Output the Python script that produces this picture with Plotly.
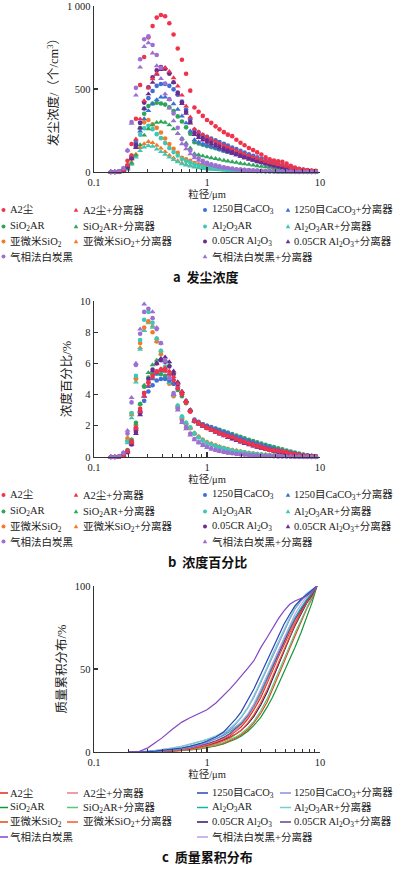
import plotly.graph_objects as go

W, H = 399, 871

# ---------------- data ----------------
sizes = [0.141, 0.153, 0.167, 0.182, 0.198, 0.215, 0.235, 0.256, 0.278, 0.303,
         0.330, 0.359, 0.391, 0.426, 0.464, 0.506, 0.551, 0.600, 0.653, 0.711,
         0.774, 0.843, 0.918, 1.00, 1.09, 1.19, 1.29, 1.41, 1.53, 1.67,
         1.82, 1.98, 2.15, 2.35, 2.56, 2.78, 3.03, 3.30, 3.59, 3.91,
         4.26, 4.64, 5.06, 5.51, 6.00, 6.53, 7.11, 7.74, 8.43, 9.18]

series_keys = ["a2", "a2_sep", "caco3", "caco3_sep", "sio2ar", "sio2ar_sep",
               "al2o3ar", "al2o3ar_sep", "subsio2", "subsio2_sep",
               "cr_al2o3", "cr_al2o3_sep", "fumed", "fumed_sep"]

series_labels = ["A2尘", "A2尘+分离器", "1250目CaCO<sub>3</sub>", "1250目CaCO<sub>3</sub>+分离器",
                 "SiO<sub>2</sub>AR", "SiO<sub>2</sub>AR+分离器",
                 "Al<sub>2</sub>O<sub>3</sub>AR", "Al<sub>2</sub>O<sub>3</sub>AR+分离器",
                 "亚微米SiO<sub>2</sub>", "亚微米SiO<sub>2</sub>+分离器",
                 "0.05CR Al<sub>2</sub>O<sub>3</sub>", "0.05CR Al<sub>2</sub>O<sub>3</sub>+分离器",
                 "气相法白炭黑", "气相法白炭黑+分离器"]

# panel a: dust concentration (个/cm3)
conc_a2 = [0, 0, 3, 17, 68, 169, 321, 524, 693, 811, 879, 930, 946, 938, 896, 828, 744, 676, 592, 490,
           389, 363, 338, 313, 296, 275, 257, 240, 225, 216, 194, 176, 161, 145, 132, 118, 105, 88, 76, 69,
           64, 61, 51, 37, 27, 20, 15, 12, 8, 7]
conc_a2_sep = [0, 0, 2, 11, 39, 99, 198, 319, 429, 506, 561, 594, 622, 627, 605, 567, 517, 462, 396, 330,
               259, 242, 226, 211, 198, 185, 173, 161, 150, 140, 129, 119, 109, 99, 90, 81, 73, 64, 56, 50,
               44, 39, 33, 26, 21, 15, 11, 8, 6, 3]
conc_caco3 = [0, 0, 2, 11, 37, 95, 180, 297, 382, 445, 488, 519, 530, 530, 519, 498, 466, 424, 376, 318,
              254, 239, 223, 212, 201, 191, 180, 170, 159, 148, 138, 127, 117, 106, 98, 89, 81, 72, 64, 56,
              49, 42, 36, 30, 23, 18, 14, 10, 6, 4]
conc_caco3_sep = [0, 0, 2, 8, 33, 82, 156, 246, 320, 369, 410, 435, 451, 451, 435, 410, 377, 336, 295, 246,
                  193, 180, 168, 160, 152, 144, 134, 126, 118, 110, 102, 93, 85, 78, 71, 65, 58, 52, 46, 40,
                  35, 30, 25, 21, 17, 13, 10, 7, 5, 3]
conc_sio2ar = [0, 0, 2, 9, 35, 86, 172, 265, 351, 398, 413, 417, 413, 406, 390, 367, 335, 304, 269, 230,
               179, 172, 164, 156, 150, 143, 136, 129, 122, 115, 108, 101, 94, 87, 80, 73, 67, 61, 55, 49,
               44, 38, 33, 27, 22, 17, 12, 9, 5, 3]
conc_sio2ar_sep = [0, 0, 1, 5, 19, 53, 101, 163, 221, 259, 283, 298, 302, 298, 283, 259, 230, 202, 173, 144,
                   110, 103, 96, 90, 85, 80, 75, 70, 65, 61, 57, 52, 48, 45, 41, 37, 34, 31, 28, 25,
                   22, 19, 16, 13, 11, 9, 6, 4, 3, 2]
conc_al2o3ar = [0, 0, 1, 6, 30, 84, 156, 225, 264, 279, 258, 228, 204, 174, 144, 120, 99, 78, 66, 57,
                45, 38, 32, 27, 24, 21, 19, 17, 14, 13, 11, 10, 8, 7, 6, 5, 5, 4, 3, 3,
                2, 2, 2, 1, 1, 1, 1, 0, 0, 0]
conc_al2o3ar_sep = [0, 0, 1, 4, 17, 46, 89, 128, 150, 159, 154, 137, 122, 105, 89, 74, 61, 48, 41, 35,
                    29, 24, 20, 18, 16, 14, 12, 11, 9, 8, 7, 6, 6, 5, 4, 4, 3, 3, 2, 2,
                    1, 1, 1, 1, 1, 1, 0, 0, 0, 0]
conc_subsio2 = [0, 0, 1, 7, 43, 101, 180, 263, 299, 313, 288, 266, 238, 202, 169, 140, 115, 86, 76, 67,
                54, 47, 40, 34, 31, 27, 24, 21, 18, 16, 14, 13, 11, 9, 8, 7, 6, 5, 4, 4,
                3, 3, 2, 2, 1, 1, 1, 1, 0, 0]
conc_subsio2_sep = [0, 0, 1, 4, 23, 57, 107, 147, 170, 183, 176, 160, 143, 122, 101, 84, 67, 53, 45, 39,
                    32, 27, 23, 20, 18, 16, 14, 12, 11, 9, 8, 7, 6, 5, 4, 4, 3, 3, 2, 2,
                    1, 1, 1, 1, 1, 0, 0, 0, 0, 0]
conc_cr_al2o3 = [0, 0, 2, 8, 31, 82, 163, 296, 418, 510, 571, 612, 632, 622, 592, 541, 479, 418, 362, 301,
                 235, 219, 204, 192, 180, 167, 156, 145, 134, 123, 113, 103, 94, 85, 77, 68, 61, 54, 47, 41,
                 35, 30, 24, 19, 15, 11, 8, 6, 4, 2]
conc_cr_al2o3_sep = [0, 0, 2, 8, 29, 78, 147, 265, 382, 470, 539, 588, 617, 627, 598, 539, 470, 412, 353, 294,
                     225, 206, 191, 178, 167, 155, 143, 132, 122, 112, 102, 93, 84, 76, 69, 61, 54, 47, 41, 35,
                     30, 25, 21, 17, 13, 10, 7, 5, 3, 2]
conc_fumed = [0, 0, 4, 22, 129, 301, 507, 679, 800, 817, 765, 705, 628, 533, 439, 353, 267, 198, 163, 129,
              99, 82, 67, 56, 47, 40, 34, 28, 24, 21, 17, 15, 13, 11, 9, 8, 7, 6, 5, 4,
              3, 3, 3, 2, 2, 1, 1, 1, 0, 0]
conc_fumed_sep = [0, 0, 4, 23, 131, 293, 462, 631, 755, 778, 716, 639, 562, 470, 385, 308, 231, 169, 139, 108,
                  85, 69, 55, 46, 39, 32, 28, 23, 20, 17, 15, 12, 11, 9, 8, 6, 5, 5, 4, 3,
                  2, 2, 2, 2, 1, 1, 1, 0, 0, 0]

# panel b: concentration percentage (%)
pct_a2 = [0, 0, 0.02, 0.1, 0.4, 1.0, 1.9, 3.1, 4.1, 4.8, 5.2, 5.5, 5.6, 5.55, 5.3, 4.9, 4.4, 4.0, 3.5, 2.9,
          2.3, 2.15, 2.0, 1.85, 1.75, 1.63, 1.52, 1.42, 1.33, 1.28, 1.15, 1.04, 0.95, 0.86, 0.78, 0.7, 0.62, 0.52, 0.45, 0.41,
          0.38, 0.36, 0.3, 0.22, 0.16, 0.12, 0.09, 0.07, 0.05, 0.04]
pct_a2_sep = [0, 0, 0.02, 0.1, 0.35, 0.9, 1.8, 2.9, 3.9, 4.6, 5.1, 5.4, 5.65, 5.7, 5.5, 5.15, 4.7, 4.2, 3.6, 3.0,
              2.35, 2.2, 2.05, 1.92, 1.8, 1.68, 1.57, 1.46, 1.36, 1.27, 1.17, 1.08, 0.99, 0.9, 0.82, 0.74, 0.66, 0.58, 0.51, 0.45,
              0.4, 0.35, 0.3, 0.24, 0.19, 0.14, 0.1, 0.07, 0.05, 0.03]
pct_caco3 = [0, 0, 0.02, 0.1, 0.35, 0.9, 1.7, 2.8, 3.6, 4.2, 4.6, 4.9, 5.0, 5.0, 4.9, 4.7, 4.4, 4.0, 3.55, 3.0,
             2.4, 2.25, 2.1, 2.0, 1.9, 1.8, 1.7, 1.6, 1.5, 1.4, 1.3, 1.2, 1.1, 1.0, 0.92, 0.84, 0.76, 0.68, 0.6, 0.53,
             0.46, 0.4, 0.34, 0.28, 0.22, 0.17, 0.13, 0.09, 0.06, 0.04]
pct_caco3_sep = [0, 0, 0.02, 0.1, 0.4, 1.0, 1.9, 3.0, 3.9, 4.5, 5.0, 5.3, 5.5, 5.5, 5.3, 5.0, 4.6, 4.1, 3.6, 3.0,
                 2.35, 2.2, 2.05, 1.95, 1.85, 1.75, 1.64, 1.54, 1.44, 1.34, 1.24, 1.14, 1.04, 0.95, 0.87, 0.79, 0.71, 0.63, 0.56, 0.49,
                 0.43, 0.37, 0.31, 0.26, 0.21, 0.16, 0.12, 0.08, 0.06, 0.04]
pct_sio2ar = [0, 0, 0.02, 0.12, 0.45, 1.1, 2.2, 3.4, 4.5, 5.1, 5.3, 5.35, 5.3, 5.2, 5.0, 4.7, 4.3, 3.9, 3.45, 2.95,
              2.3, 2.2, 2.1, 2.0, 1.92, 1.83, 1.74, 1.65, 1.56, 1.47, 1.38, 1.29, 1.2, 1.11, 1.02, 0.94, 0.86, 0.78, 0.7, 0.63,
              0.56, 0.49, 0.42, 0.35, 0.28, 0.22, 0.16, 0.11, 0.07, 0.04]
pct_sio2ar_sep = [0, 0, 0.02, 0.1, 0.4, 1.1, 2.1, 3.4, 4.6, 5.4, 5.9, 6.2, 6.3, 6.2, 5.9, 5.4, 4.8, 4.2, 3.6, 3.0,
                  2.3, 2.15, 2.0, 1.88, 1.77, 1.66, 1.56, 1.46, 1.36, 1.27, 1.18, 1.09, 1.01, 0.93, 0.85, 0.78, 0.71, 0.64, 0.58, 0.52,
                  0.46, 0.4, 0.34, 0.28, 0.23, 0.18, 0.13, 0.09, 0.06, 0.04]
pct_al2o3ar = [0, 0, 0.03, 0.2, 1.0, 2.8, 5.2, 7.5, 8.8, 9.3, 8.6, 7.6, 6.8, 5.8, 4.8, 4.0, 3.3, 2.6, 2.2, 1.9,
               1.5, 1.25, 1.05, 0.9, 0.8, 0.7, 0.62, 0.55, 0.48, 0.42, 0.37, 0.32, 0.28, 0.24, 0.21, 0.18, 0.15, 0.13, 0.11, 0.09,
               0.07, 0.06, 0.05, 0.04, 0.03, 0.02, 0.02, 0.01, 0.01, 0]
pct_al2o3ar_sep = [0, 0, 0.03, 0.2, 0.9, 2.5, 4.8, 6.9, 8.1, 8.6, 8.3, 7.4, 6.6, 5.7, 4.8, 4.0, 3.3, 2.6, 2.2, 1.9,
                   1.55, 1.3, 1.1, 0.95, 0.84, 0.74, 0.65, 0.57, 0.5, 0.44, 0.39, 0.34, 0.3, 0.26, 0.22, 0.19, 0.16, 0.14, 0.12, 0.1,
                   0.08, 0.07, 0.06, 0.05, 0.04, 0.03, 0.02, 0.02, 0.01, 0.01]
pct_subsio2 = [0, 0, 0.03, 0.2, 1.2, 2.8, 5.0, 7.3, 8.3, 8.7, 8.0, 7.4, 6.6, 5.6, 4.7, 3.9, 3.2, 2.4, 2.1, 1.85,
               1.5, 1.3, 1.1, 0.95, 0.85, 0.75, 0.66, 0.58, 0.51, 0.45, 0.4, 0.35, 0.3, 0.26, 0.22, 0.19, 0.16, 0.14, 0.12, 0.1,
               0.08, 0.07, 0.06, 0.05, 0.04, 0.03, 0.02, 0.02, 0.01, 0.01]
pct_subsio2_sep = [0, 0, 0.03, 0.2, 1.1, 2.7, 5.1, 7.0, 8.1, 8.7, 8.4, 7.6, 6.8, 5.8, 4.8, 4.0, 3.2, 2.5, 2.15, 1.85,
                   1.5, 1.3, 1.1, 0.95, 0.84, 0.74, 0.65, 0.57, 0.5, 0.44, 0.39, 0.34, 0.29, 0.25, 0.21, 0.18, 0.15, 0.13, 0.11, 0.09,
                   0.07, 0.06, 0.05, 0.04, 0.03, 0.02, 0.02, 0.01, 0.01, 0]
pct_cr_al2o3 = [0, 0, 0.02, 0.08, 0.3, 0.8, 1.6, 2.9, 4.1, 5.0, 5.6, 6.0, 6.2, 6.1, 5.8, 5.3, 4.7, 4.1, 3.55, 2.95,
                2.3, 2.15, 2.0, 1.88, 1.76, 1.64, 1.53, 1.42, 1.31, 1.21, 1.11, 1.01, 0.92, 0.83, 0.75, 0.67, 0.6, 0.53, 0.46, 0.4,
                0.34, 0.29, 0.24, 0.19, 0.15, 0.11, 0.08, 0.06, 0.04, 0.02]
pct_cr_al2o3_sep = [0, 0, 0.02, 0.08, 0.3, 0.8, 1.5, 2.7, 3.9, 4.8, 5.5, 6.0, 6.3, 6.4, 6.1, 5.5, 4.8, 4.2, 3.6, 3.0,
                    2.3, 2.1, 1.95, 1.82, 1.7, 1.58, 1.46, 1.35, 1.24, 1.14, 1.04, 0.95, 0.86, 0.78, 0.7, 0.62, 0.55, 0.48, 0.42, 0.36,
                    0.31, 0.26, 0.21, 0.17, 0.13, 0.1, 0.07, 0.05, 0.03, 0.02]
pct_fumed = [0, 0, 0.05, 0.25, 1.5, 3.5, 5.9, 7.9, 9.3, 9.5, 8.9, 8.2, 7.3, 6.2, 5.1, 4.1, 3.1, 2.3, 1.9, 1.5,
             1.15, 0.95, 0.78, 0.65, 0.55, 0.46, 0.39, 0.33, 0.28, 0.24, 0.2, 0.17, 0.15, 0.13, 0.11, 0.09, 0.08, 0.07, 0.06, 0.05,
             0.04, 0.03, 0.03, 0.02, 0.02, 0.01, 0.01, 0.01, 0, 0]
pct_fumed_sep = [0, 0, 0.05, 0.3, 1.7, 3.8, 6.0, 8.2, 9.8, 10.1, 9.3, 8.3, 7.3, 6.1, 5.0, 4.0, 3.0, 2.2, 1.8, 1.4,
                 1.1, 0.9, 0.72, 0.6, 0.5, 0.42, 0.36, 0.3, 0.26, 0.22, 0.19, 0.16, 0.14, 0.12, 0.1, 0.08, 0.07, 0.06, 0.05, 0.04,
                 0.03, 0.03, 0.02, 0.02, 0.01, 0.01, 0.01, 0, 0, 0]

# panel c: cumulative mass distribution (%)
cum_sizes = [0.2, 0.25, 0.3, 0.35, 0.4, 0.5, 0.6, 0.7, 0.8, 0.9, 1.0, 1.2, 1.4, 1.6, 1.8, 2.0,
             2.3, 2.6, 3.0, 3.4, 3.8, 4.3, 4.8, 5.4, 6.0, 6.8, 7.6, 8.5, 9.4]
cum_a2 = [0, 0, 0.1, 0.2, 0.4, 0.9, 1.4, 2.0, 2.7, 3.4, 4.2, 5.8, 7.6, 9.8, 12.3, 15, 20, 25.5, 33, 41,
          49, 57.5, 65, 72, 78.5, 85, 90.5, 95, 100]
cum_a2_sep = [0, 0, 0.1, 0.3, 0.5, 1.0, 1.6, 2.3, 3.0, 3.8, 4.6, 6.3, 8.2, 10.5, 13, 16, 21, 26.5, 34.5, 42.5,
              50.5, 58.5, 66, 73, 79.5, 86, 91, 95.5, 100]
cum_caco3 = [0, 0, 0.2, 0.5, 0.9, 1.6, 2.4, 3.3, 4.3, 5.4, 6.6, 9, 12, 16, 20, 24, 31, 38, 47, 55,
             63, 71, 77, 83, 88, 92, 95, 97.5, 100]
cum_caco3_sep = [0, 0, 0.2, 0.4, 0.7, 1.3, 2.0, 2.8, 3.7, 4.7, 5.7, 8, 10.5, 13.5, 17, 20.5, 26.5, 33, 42, 50,
                 58, 66, 73, 80, 86, 91, 94.5, 97.5, 100]
cum_sio2ar = [0, 0, 0, 0.1, 0.2, 0.5, 0.8, 1.2, 1.6, 2.1, 2.6, 3.6, 4.8, 6.2, 7.8, 9.5, 12.5, 16, 21, 27,
              33, 41, 48, 56, 63, 72, 81, 90, 100]
cum_sio2ar_sep = [0, 0, 0, 0.1, 0.3, 0.6, 1.0, 1.4, 1.9, 2.5, 3.1, 4.3, 5.7, 7.3, 9.1, 11, 14.5, 18.5, 25, 32,
                  39.5, 48, 56, 64, 71.5, 79.5, 86.5, 93, 100]
cum_al2o3ar = [0, 0.1, 0.3, 0.6, 1.0, 1.7, 2.5, 3.4, 4.3, 5.2, 6.1, 8, 10, 12.3, 14.8, 17.5, 22.5, 28, 36.5, 45,
               53, 61, 68, 75, 81, 87, 92, 96, 100]
cum_al2o3ar_sep = [0, 0.1, 0.4, 0.8, 1.3, 2.2, 3.2, 4.3, 5.4, 6.5, 7.6, 9.8, 12, 14.5, 17.5, 21, 27, 34, 43, 51,
                   59, 67, 74, 81, 87, 92, 95.5, 98, 100]
cum_subsio2 = [0, 0, 0, 0.1, 0.2, 0.5, 0.8, 1.2, 1.7, 2.2, 2.8, 3.9, 5.2, 6.7, 8.4, 10.2, 13.5, 17.5, 23.5, 30,
               37.5, 46, 54, 62.5, 70, 78.5, 86, 92.5, 100]
cum_subsio2_sep = [0, 0, 0.1, 0.2, 0.4, 0.8, 1.2, 1.7, 2.3, 2.9, 3.6, 5.0, 6.6, 8.5, 10.7, 13, 17.5, 22.5, 30, 37.5,
                   45.5, 54, 62, 70, 77, 84, 90, 95, 100]
cum_cr_al2o3 = [0, 0, 0, 0.2, 0.4, 0.8, 1.3, 1.9, 2.6, 3.3, 4.0, 5.5, 7.1, 8.9, 10.9, 13, 17, 21.5, 28.5, 36,
                44, 53, 61, 69, 76, 83.5, 89.5, 94.5, 100]
cum_cr_al2o3_sep = [0, 0, 0.1, 0.3, 0.6, 1.2, 1.9, 2.6, 3.4, 4.2, 5.0, 6.8, 8.8, 11.2, 14, 17, 22, 28, 36, 44,
                    52, 60, 67, 74, 80, 86, 91, 95.5, 100]
cum_fumed = [0, 0.3, 2.5, 5.5, 8.5, 14, 18, 20.5, 22.5, 24, 25.5, 29.5, 34, 38, 42, 45.5, 50.5, 55, 63, 69,
             74.5, 80.5, 85, 89, 91, 92.5, 94, 96.5, 100]
cum_fumed_sep = [0, 0.2, 0.5, 1.0, 1.5, 2.5, 3.5, 4.6, 5.6, 6.6, 7.5, 9.3, 11.2, 13.3, 15.5, 18, 23, 29, 38, 46,
                 54, 62, 69, 76, 83, 89, 93.5, 97, 100]

x_ticks = [0.1, 1, 10]
x_tick_text = ["0.1", "1", "10"]
x_minor = [0.2, 0.3, 0.4, 0.5, 0.6, 0.7, 0.8, 0.9, 2, 3, 4, 5, 6, 7, 8, 9]

# ---------------- styles ----------------
marker_colors = {
    "a2": "#f0334b", "a2_sep": "#f0334b",
    "caco3": "#3d6fd6", "caco3_sep": "#3d6fd6",
    "sio2ar": "#2ea55a", "sio2ar_sep": "#2ea55a",
    "al2o3ar": "#3cc8b6", "al2o3ar_sep": "#3cc8b6",
    "subsio2": "#f47a2a", "subsio2_sep": "#f47a2a",
    "cr_al2o3": "#6b2c91", "cr_al2o3_sep": "#6b2c91",
    "fumed": "#9b70d2", "fumed_sep": "#9b70d2",
}
line_colors = {
    "a2": "#e3231f", "a2_sep": "#f07a86",
    "caco3": "#2a44b4", "caco3_sep": "#8a90e0",
    "sio2ar": "#14953a", "sio2ar_sep": "#5cc47a",
    "al2o3ar": "#14b4a4", "al2o3ar_sep": "#72d2c8",
    "subsio2": "#e8441a", "subsio2_sep": "#f25a28",
    "cr_al2o3": "#341268", "cr_al2o3_sep": "#65408c",
    "fumed": "#8446c4", "fumed_sep": "#bda0e4",
}

conc = {k: globals()["conc_" + k] for k in series_keys}
pct = {k: globals()["pct_" + k] for k in series_keys}
cum = {k: globals()["cum_" + k] for k in series_keys}

SERIF = "Liberation Serif, Noto Sans CJK SC, serif"
CJK = "Noto Sans CJK SC, sans-serif"
AX = "#333333"

fig = go.Figure()

draw_order = ["subsio2_sep", "al2o3ar_sep", "subsio2", "al2o3ar", "sio2ar_sep", "sio2ar",
              "caco3_sep", "caco3", "cr_al2o3_sep", "cr_al2o3", "a2_sep", "a2", "fumed_sep", "fumed"]

for panel, data, xa, ya in [("a", conc, "x", "y"), ("b", pct, "x2", "y2")]:
    for k in draw_order:
        sep = k.endswith("_sep")
        fig.add_trace(go.Scatter(
            x=sizes, y=data[k], mode="markers", xaxis=xa, yaxis=ya,
            name=series_labels[series_keys.index(k)], showlegend=False, cliponaxis=False,
            marker=dict(symbol="triangle-up" if sep else "circle", size=5.2 if sep else 4.6,
                        color=marker_colors[k], line=dict(width=0)),
        ))

line_order = ["sio2ar", "subsio2", "sio2ar_sep", "cr_al2o3", "subsio2_sep", "a2", "a2_sep",
              "cr_al2o3_sep", "al2o3ar", "fumed_sep", "caco3_sep", "al2o3ar_sep", "caco3", "fumed"]
for k in line_order:
    fig.add_trace(go.Scatter(
        x=cum_sizes, y=cum[k], mode="lines", xaxis="x3", yaxis="y3",
        name=series_labels[series_keys.index(k)], showlegend=False,
        line=dict(color=line_colors[k], width=1.2),
    ))

def px_x(x):
    return x / W

def px_y(y):
    return 1 - y / H

X0, X1 = 94, 320
panels = {
    "a": dict(top=6, bottom=172),
    "b": dict(top=301, bottom=457),
    "c": dict(top=586, bottom=752),
}

def xaxis_cfg(anchor):
    return dict(
        type="log", range=[-1, 1], domain=[px_x(X0), px_x(X1)], anchor=anchor, automargin=False,
        tickvals=x_ticks, ticktext=x_tick_text, ticks="inside", ticklen=5, tickwidth=1.2,
        tickcolor=AX, showline=True, linecolor=AX, linewidth=1.4, showgrid=False, zeroline=False,
        minor=dict(tickvals=x_minor, ticks="inside", ticklen=3, tickwidth=1, tickcolor=AX, showgrid=False),
        tickfont=dict(family=SERIF, size=10.5, color="#222"), ticklabeloverflow="allow",
        title=dict(text="粒径/μm", font=dict(family=SERIF, size=10.5, color="#222"), standoff=1),
    )

def yaxis_cfg(anchor, p, rng, tv, tt, title):
    return dict(
        range=rng, domain=[px_y(panels[p]["bottom"]), px_y(panels[p]["top"])], anchor=anchor,
        automargin=False,
        tickvals=tv, ticktext=tt, ticks="inside", ticklen=4, tickwidth=1.2, tickcolor=AX,
        showline=True, linecolor=AX, linewidth=1.4, showgrid=False, zeroline=False,
        tickfont=dict(family=SERIF, size=10.5, color="#222"), ticklabeloverflow="allow",
        title=dict(text=title, font=dict(family=SERIF, size=12.5, color="#222"), standoff=5),
    )

fig.update_layout(
    width=W, height=H, margin=dict(l=0, r=0, t=0, b=0, pad=0, autoexpand=False),
    paper_bgcolor="white", plot_bgcolor="white", showlegend=False,
    font=dict(family=SERIF, size=11, color="#222"),
    xaxis=xaxis_cfg("y"), xaxis2=xaxis_cfg("y2"), xaxis3=xaxis_cfg("y3"),
    yaxis=yaxis_cfg("x", "a", [0, 1000], [0, 500, 1000], ["0", "500", "1 000"], "发尘浓度/（个/cm<sup>3</sup>）"),
    yaxis2=yaxis_cfg("x2", "b", [0, 10], [0, 2, 4, 6, 8, 10], ["0", "2", "4", "6", "8", "10"], "浓度百分比/%"),
    yaxis3=yaxis_cfg("x3", "c", [0, 100], [0, 50, 100], ["0", "50", "100"], "质量累积分布/%"),
)

# ---------------- legends (manual, to match the compact layout) ----------------
legend_grid = [["a2", "a2_sep", "caco3", "caco3_sep"],
               ["sio2ar", "sio2ar_sep", "al2o3ar", "al2o3ar_sep"],
               ["subsio2", "subsio2_sep", "cr_al2o3", "cr_al2o3_sep"],
               ["fumed", None, "fumed_sep", None]]
marker_cols = [3.5, 76, 205, 288]
text_cols = [8, 81, 210, 292]
line_cols = [(-1, 8), (67, 78), (197, 208), (280, 291)]
legend_rows = {"a": [210, 226.5, 241.5, 256.5], "b": [495, 511.5, 526.5, 541.5], "c": [793, 807.5, 822, 837]}

shapes = []
annotations = []
for p in ["a", "b", "c"]:
    for r, row in enumerate(legend_grid):
        y = legend_rows[p][r]
        for c, k in enumerate(row):
            if k is None:
                continue
            if p == "c":
                xa, xb = line_cols[c]
                shapes.append(dict(type="line", xref="paper", yref="paper",
                                   x0=px_x(xa), x1=px_x(xb), y0=px_y(y), y1=px_y(y),
                                   line=dict(color=line_colors[k], width=1.5)))
            else:
                mx = marker_cols[c]
                col = marker_colors[k]
                if k.endswith("_sep"):
                    path = "M {} {} L {} {} L {} {} Z".format(
                        px_x(mx - 2.3), px_y(y + 1.8), px_x(mx + 2.3), px_y(y + 1.8), px_x(mx), px_y(y - 2.3))
                    shapes.append(dict(type="path", xref="paper", yref="paper", path=path,
                                       fillcolor=col, line=dict(width=0)))
                else:
                    shapes.append(dict(type="circle", xref="paper", yref="paper",
                                       x0=px_x(mx - 2), x1=px_x(mx + 2), y0=px_y(y + 2), y1=px_y(y - 2),
                                       fillcolor=col, line=dict(width=0)))
            annotations.append(dict(x=px_x(text_cols[c]), y=px_y(y), xref="paper", yref="paper",
                                    xanchor="left", yanchor="middle", showarrow=False,
                                    text=series_labels[series_keys.index(k)],
                                    font=dict(family=SERIF, size=10.5, color="#222")))

captions = [("a", "发尘浓度", 206, 276.5), ("b", "浓度百分比", 207.5, 561.5), ("c", "质量累积分布", 207.5, 856.5)]
for letter, txt, cx, cy in captions:
    annotations.append(dict(x=px_x(cx), y=px_y(cy), xref="paper", yref="paper",
                            xanchor="center", yanchor="middle", showarrow=False,
                            text="<b>{}  {}</b>".format(letter, txt),
                            font=dict(family=CJK, size=13, color="#111")))

fig.update_layout(shapes=shapes, annotations=annotations)

fig.write_html("out.html",
               config={"displayModeBar": False, "staticPlot": True},
               post_script="document.body.style.margin='0';document.body.style.padding='0';"
                           "document.documentElement.style.overflow='hidden';")
